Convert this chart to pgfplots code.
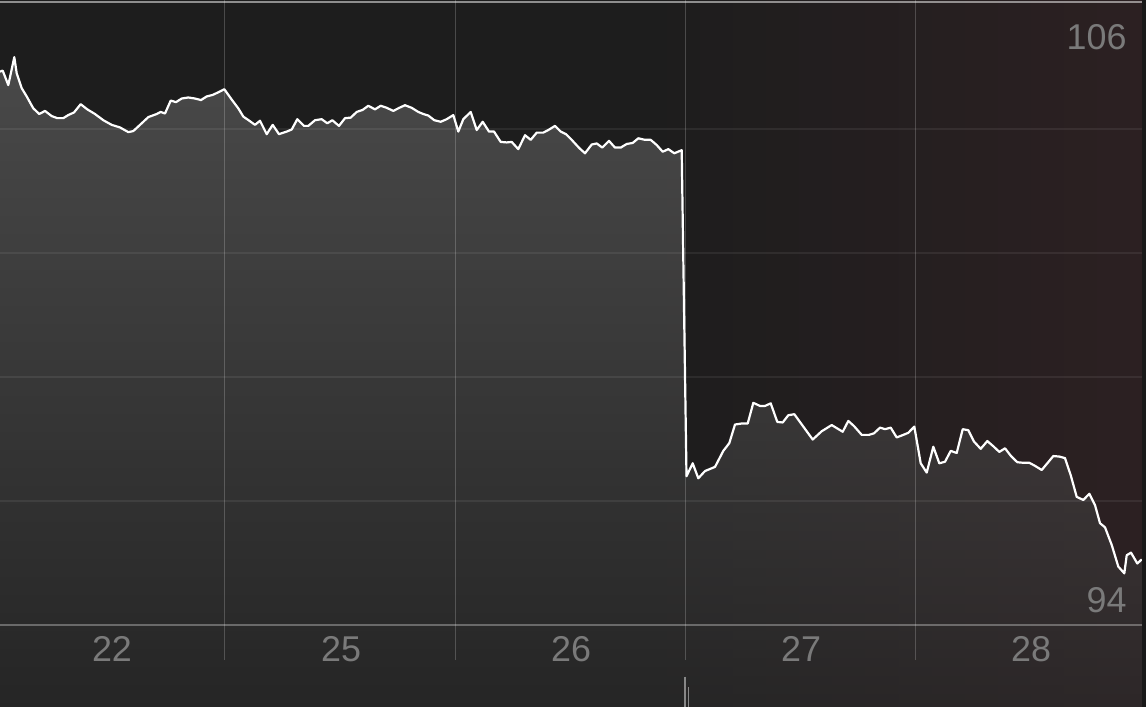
\documentclass[border=0pt]{standalone}
\usepackage{pgfplots}
\pgfplotsset{compat=1.18}
\usepackage{pgfplotstable}
\usepackage{fontspec}
\setmainfont{Liberation Sans}

\definecolor{bgL}{HTML}{1D1D1D}
\definecolor{bgR}{HTML}{2C2022}
\definecolor{areaT}{HTML}{767676}
\definecolor{areaB}{HTML}{2E2E2E}
\definecolor{lbl}{HTML}{7A7A7A}

% price, x in screen position along the 5 trading days
\pgfplotstableread{
x v
0 104.71
2.7 104.73
8.3 104.45
14.3 104.99
16.7 104.68
21.7 104.39
26.7 104.23
33.3 104.00
39.3 103.89
45 103.95
51.7 103.85
57.3 103.81
63.3 103.81
68.3 103.87
74 103.92
80.7 104.08
87.3 103.98
95 103.89
103.3 103.77
111.7 103.68
120 103.63
128.3 103.54
133.3 103.56
140 103.68
148.3 103.83
156.7 103.89
160.7 103.93
165 103.90
170.7 104.15
176 104.12
181.7 104.19
188.3 104.21
195 104.19
201 104.16
206.7 104.23
212.7 104.26
218.3 104.31
224.3 104.37
231.7 104.17
238.3 104.00
243.3 103.84
249.3 103.76
255 103.68
260 103.76
266.7 103.50
272.7 103.68
279 103.50
286.7 103.55
291.7 103.59
297.3 103.79
304 103.66
308.3 103.66
315 103.77
321.7 103.79
327.3 103.71
332.3 103.77
339 103.66
345 103.81
350.7 103.82
356.7 103.93
362.7 103.97
368.3 104.05
375 103.98
380.7 104.05
386.7 104.01
393.3 103.95
399.3 104.01
405 104.06
411.7 104.01
418.3 103.93
423.3 103.89
428.3 103.86
434.3 103.77
440.7 103.74
446.7 103.79
453.3 103.87
458.3 103.55
463.3 103.79
470.7 103.93
476.7 103.58
482.7 103.74
489 103.55
494 103.55
500.7 103.35
506.7 103.34
511.7 103.35
518.3 103.21
525 103.48
530.7 103.39
536.7 103.53
543.3 103.53
548.3 103.58
555 103.66
560.7 103.55
566 103.50
571.7 103.39
579.3 103.23
585 103.13
591.7 103.30
596.7 103.32
602.3 103.24
609 103.37
615 103.24
620.7 103.24
626.7 103.31
632.7 103.33
638.3 103.42
645 103.39
650.7 103.39
656.7 103.29
662.7 103.16
668.3 103.21
674.3 103.13
681.7 103.19
686.5 96.88
692.7 97.13
698.3 96.84
705 96.98
715 97.06
723.3 97.37
729.3 97.52
735 97.88
741.7 97.90
747.7 97.90
753.3 98.30
760 98.24
765 98.24
770.7 98.29
777.3 97.93
782.7 97.92
788.3 98.06
794.3 98.08
803.3 97.84
812.7 97.59
821.7 97.75
831.7 97.87
842.7 97.74
848.3 97.95
854 97.85
861.7 97.68
869 97.68
874 97.71
880 97.82
885 97.79
890.7 97.82
896.7 97.63
903.3 97.68
908.3 97.72
914.3 97.84
920.7 97.13
926.7 96.95
933.3 97.45
939.3 97.13
945 97.16
950.7 97.37
956.7 97.33
962.7 97.79
968.3 97.77
974 97.55
980.7 97.41
987.3 97.56
993.3 97.46
999.3 97.35
1005 97.42
1011 97.27
1017.3 97.15
1023.3 97.14
1029.3 97.14
1035 97.08
1041.7 97.00
1047.3 97.13
1053.3 97.27
1059.3 97.26
1065 97.23
1070.7 96.90
1076.7 96.48
1083.3 96.42
1089.3 96.54
1095 96.32
1100 95.97
1105 95.89
1111.7 95.55
1118.3 95.13
1124.3 95.00
1126.7 95.35
1131 95.40
1137.3 95.19
1141.7 95.27
}\price

\begin{document}
\begin{tikzpicture}
\begin{axis}[
    width=1146bp, height=707bp,
    scale only axis,
    hide axis,
    xmin=0, xmax=1146,
    ymin=92.4129, ymax=106.0968,
]
% background
\fill[bgL] (axis cs:0,92.4129) rectangle (axis cs:650,106.0968);
\fill[left color=bgL, right color=bgR] (axis cs:650,92.4129) rectangle (axis cs:1146,106.0968);

% area under the price
\addplot[draw=none, top color=areaT, bottom color=areaB, fill opacity=0.5]
    table[x=x, y=v] {\price} -- (axis cs:1141.7,92.4129) -- (axis cs:0,92.4129) -- cycle;

% horizontal grid
\pgfplotsinvokeforeach{103.6,101.2,98.8,96.4}{
    \draw[white, opacity=0.07, line width=1.2bp] (axis cs:0,#1) -- (axis cs:1146,#1);
}
\draw[white, opacity=0.5, line width=1.5bp] (axis cs:0,106.06) -- (axis cs:1146,106.06);
\draw[white, opacity=0.3, line width=1.2bp] (axis cs:0,94) -- (axis cs:1146,94);

% day separators
\pgfplotsinvokeforeach{224.5,455.5,685,915}{
    \draw[white, opacity=0.2, line width=1bp] (axis cs:#1,106.0968) -- (axis cs:#1,93.32);
}

% price line
\addplot[white, line width=2.2bp, line join=round] table[x=x, y=v] {\price};

% value labels
\node[anchor=east, lbl, font=\fontsize{36}{40}\selectfont] at (axis cs:1130,105.38) {106};
\node[anchor=east, lbl, font=\fontsize{36}{40}\selectfont] at (axis cs:1130,94.48) {94};

% day labels
\node[lbl, font=\fontsize{36}{40}\selectfont] at (axis cs:112,93.54) {22};
\node[lbl, font=\fontsize{36}{40}\selectfont] at (axis cs:341,93.54) {25};
\node[lbl, font=\fontsize{36}{40}\selectfont] at (axis cs:571,93.54) {26};
\node[lbl, font=\fontsize{36}{40}\selectfont] at (axis cs:801,93.54) {27};
\node[lbl, font=\fontsize{36}{40}\selectfont] at (axis cs:1031,93.54) {28};

% small screen marks at the bottom
\draw[white, opacity=0.45, line width=1.2bp] (axis cs:685,93.0) -- (axis cs:685,92.4129);
\draw[white, opacity=0.45, line width=1.2bp] (axis cs:688.5,92.8) -- (axis cs:688.5,92.4129);
\fill[black!90] (axis cs:1141.5,92.4129) rectangle (axis cs:1146,106.0968);
\end{axis}
\end{tikzpicture}
\end{document}
